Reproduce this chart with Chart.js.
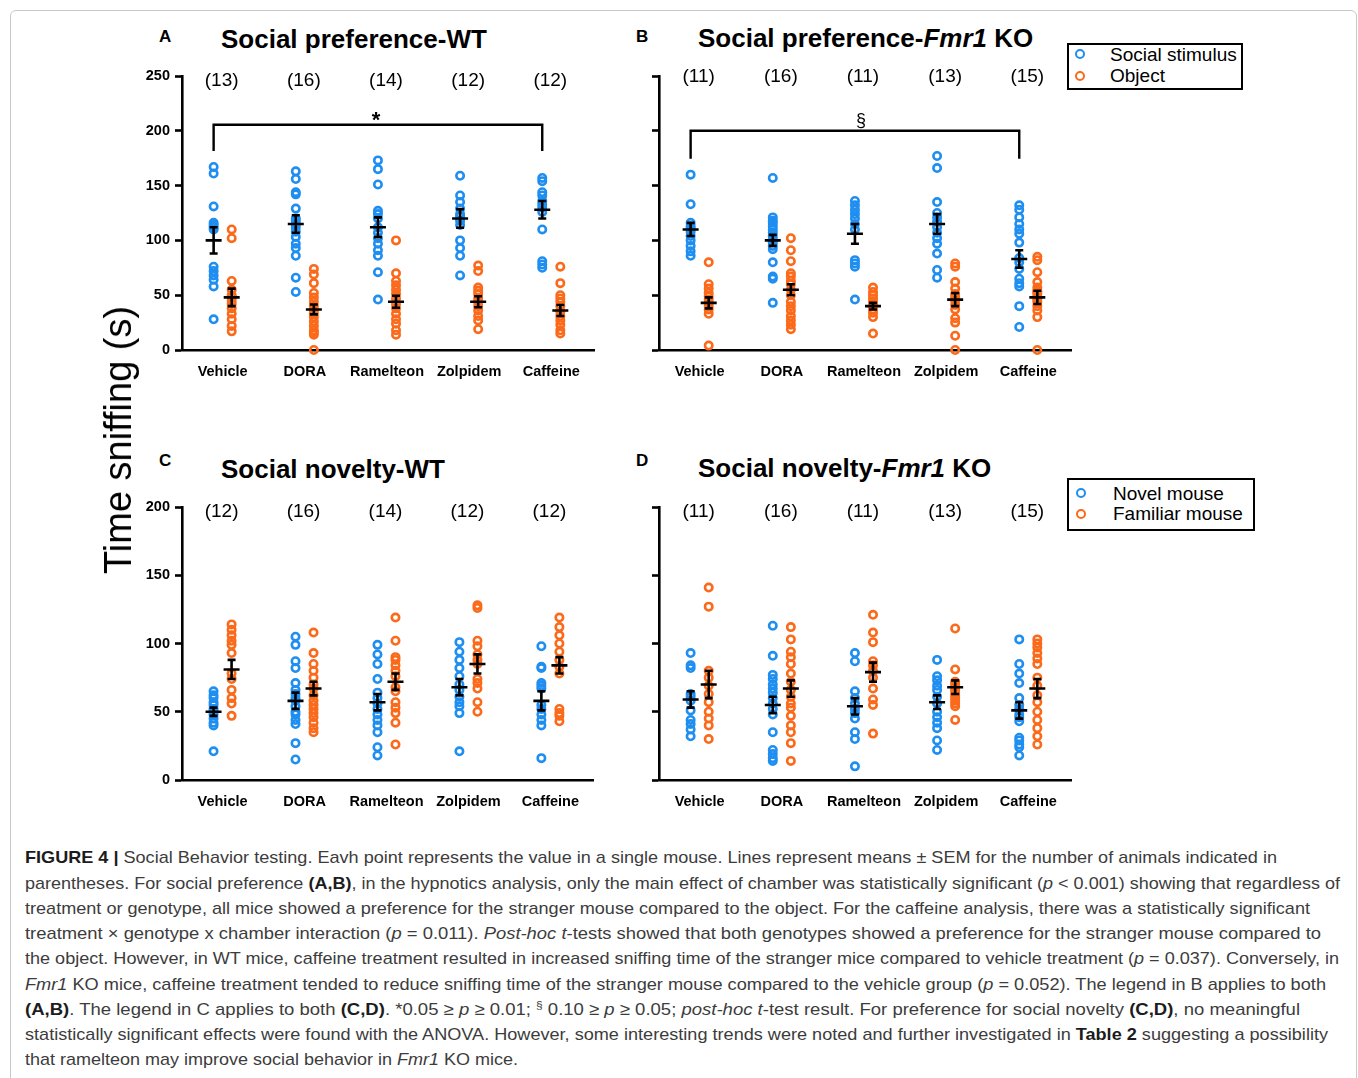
<!DOCTYPE html>
<html><head><meta charset="utf-8">
<script src="https://cdn.jsdelivr.net/npm/chart.js@4.4.0/dist/chart.umd.min.js"></script>
<style>
html,body{margin:0;padding:0;background:#fff}
body{width:1358px;height:1078px;position:relative;overflow:hidden;font-family:"Liberation Sans",Arial,sans-serif;color:#000}
.abs{position:absolute;white-space:nowrap}
canvas{position:absolute}
.frame{position:absolute;left:10px;top:10px;width:1345px;height:1100px;border:1px solid #c9c9c9;border-radius:6px}
.letter{font-weight:bold;font-size:17px;line-height:20px}
.title{font-weight:bold;font-size:26px;line-height:30px}
.leg{position:absolute;border:2.5px solid #000;box-sizing:border-box;background:#fff}
.dot{position:absolute;width:10px;height:10px;box-sizing:border-box;border-radius:50%;border:2.6px solid}
.legt{font-size:19px;line-height:22px}
.cap{font-size:17px;line-height:22px;height:22px;color:#3c3c3c;transform-origin:0 50%}
.cap b{color:#1c1c1c}
.cap sup{font-size:11px;line-height:0;vertical-align:6px}
</style></head>
<body>
<div class="frame"></div>

<canvas id="cA" width="510" height="340" style="left:100px;top:60px"></canvas>
<canvas id="cB" width="490" height="340" style="left:600px;top:60px"></canvas>
<canvas id="cC" width="510" height="340" style="left:100px;top:490px"></canvas>
<canvas id="cD" width="490" height="340" style="left:600px;top:490px"></canvas>

<div class="abs letter" style="left:159px;top:27px">A</div>
<div class="abs title" style="left:221px;top:24px">Social preference-WT</div>
<div class="abs letter" style="left:636px;top:27px">B</div>
<div class="abs title" style="left:698px;top:23px">Social preference-<i>Fmr1</i> KO</div>
<div class="abs letter" style="left:159px;top:451px">C</div>
<div class="abs title" style="left:221px;top:454px">Social novelty-WT</div>
<div class="abs letter" style="left:636px;top:451px">D</div>
<div class="abs title" style="left:698px;top:453px">Social novelty-<i>Fmr1</i> KO</div>

<div class="abs" style="left:118px;top:440px;transform:translate(-50%,-50%) rotate(-90deg);font-size:38px;line-height:44px">Time sniffing (s)</div>

<div class="leg" style="left:1067px;top:43px;width:176px;height:47px"></div>
<div class="dot" style="left:1075px;top:49px;border-color:#1f8ef1"></div>
<div class="dot" style="left:1075px;top:71px;border-color:#fb6a1a"></div>
<div class="abs legt" style="left:1110px;top:44px">Social stimulus</div>
<div class="abs legt" style="left:1110px;top:65px">Object</div>

<div class="leg" style="left:1067px;top:478px;width:188px;height:53px"></div>
<div class="dot" style="left:1076px;top:488px;border-color:#1f8ef1"></div>
<div class="dot" style="left:1076px;top:509px;border-color:#fb6a1a"></div>
<div class="abs legt" style="left:1113px;top:483px">Novel mouse</div>
<div class="abs legt" style="left:1113px;top:503px">Familiar mouse</div>

<div class="abs cap" data-w="1252" style="left:25px;top:847px"><b>FIGURE 4 |</b> Social Behavior testing. Eavh point represents the value in a single mouse. Lines represent means ± SEM for the number of animals indicated in</div>
<div class="abs cap" data-w="1315" style="left:25px;top:873px">parentheses. For social preference <b>(A,B)</b>, in the hypnotics analysis, only the main effect of chamber was statistically significant (<i>p</i> &lt; 0.001) showing that regardless of</div>
<div class="abs cap" data-w="1285" style="left:25px;top:898px">treatment or genotype, all mice showed a preference for the stranger mouse compared to the object. For the caffeine analysis, there was a statistically significant</div>
<div class="abs cap" data-w="1296" style="left:25px;top:923px">treatment × genotype x chamber interaction (<i>p</i> = 0.011). <i>Post-hoc t</i>-tests showed that both genotypes showed a preference for the stranger mouse compared to</div>
<div class="abs cap" data-w="1314" style="left:25px;top:948px">the object. However, in WT mice, caffeine treatment resulted in increased sniffing time of the stranger mice compared to vehicle treatment (<i>p</i> = 0.037). Conversely, in</div>
<div class="abs cap" data-w="1301" style="left:25px;top:974px"><i>Fmr1</i> KO mice, caffeine treatment tended to reduce sniffing time of the stranger mouse compared to the vehicle group (<i>p</i> = 0.052). The legend in B applies to both</div>
<div class="abs cap" data-w="1275" style="left:25px;top:999px"><b>(A,B)</b>. The legend in C applies to both <b>(C,D)</b>. *0.05 ≥ <i>p</i> ≥ 0.01; <sup>§</sup> 0.10 ≥ <i>p</i> ≥ 0.05; <i>post-hoc t</i>-test result. For preference for social novelty <b>(C,D)</b>, no meaningful</div>
<div class="abs cap" data-w="1303" style="left:25px;top:1024px">statistically significant effects were found with the ANOVA. However, some interesting trends were noted and further investigated in <b>Table 2</b> suggesting a possibility</div>
<div class="abs cap" data-w="493" style="left:25px;top:1049px">that ramelteon may improve social behavior in <i>Fmr1</i> KO mice.</div>

<script>
// ---------- DATA ----------
const categories = ['Vehicle', 'DORA', 'Ramelteon', 'Zolpidem', 'Caffeine'];
const prefTicks = [0, 50, 100, 150, 200, 250];
const novTicks = [0, 50, 100, 150, 200];
const nPrefWT = [13, 16, 14, 12, 12];
const nPrefKO = [11, 16, 11, 13, 15];
const nNovWT = [12, 16, 14, 12, 12];
const nNovKO = [11, 16, 11, 13, 15];

// A: Social preference - WT
const prefWT_social = [
  [167,161,131,116,114,112,110,76,72,68,64,58,28],
  [163,156,144,142,129,120,118,115,112,108,103,97,93,86,66,53],
  [173,165,151,127,124,120,112,107,102,97,91,86,71,46],
  [159,141,135,129,124,122,118,114,100,93,86,68],
  [157,154,144,141,136,133,130,126,110,81,78,75]
];
const prefWT_object = [
  [110,102,63,55,50,48,45,42,38,33,28,22,17],
  [74,69,61,52,48,44,40,36,33,30,26,22,18,16,14,0],
  [100,70,63,59,55,51,47,42,38,33,28,24,18,14],
  [77,72,57,54,51,47,44,40,36,31,27,19],
  [76,61,50,47,44,40,35,31,27,23,18,15]
];
const prefWT_socialMean = [100, 115, 112, 120, 128];
const prefWT_socialSem = [12, 8, 9, 8.5, 8];
const prefWT_objectMean = [48, 37, 44, 44, 36];
const prefWT_objectSem = [8, 4.5, 5.5, 5, 5];

// B: Social preference - Fmr1 KO
const prefKO_social = [
  [160,133,116,113,111,108,104,100,95,90,86],
  [157,121,118,116,113,110,107,104,101,98,95,92,80,67,65,43],
  [136,132,128,124,120,115,110,82,79,76,46],
  [177,166,135,125,121,117,112,107,102,97,88,73,66],
  [132,128,121,115,110,106,98,84,80,74,65,61,58,40,21]
];
const prefKO_object = [
  [80,60,56,52,49,46,43,40,37,33,4],
  [102,91,81,70,67,63,60,55,50,44,40,36,31,27,23,19],
  [57,53,50,47,44,42,40,37,34,30,15],
  [79,76,62,56,51,48,45,41,37,29,25,13,0],
  [85,82,71,62,57,54,53,51,48,46,44,40,36,30,0]
];
const prefKO_socialMean = [110, 100, 106, 115, 83];
const prefKO_socialSem = [6, 5, 9, 9, 8];
const prefKO_objectMean = [43, 55, 40, 46, 48];
const prefKO_objectSem = [5, 5, 3, 6, 6];

// C: Social novelty - WT
const novWT_novel = [
  [65,62,60,57,55,52,50,48,45,42,40,21],
  [105,99,87,82,71,66,63,60,58,54,50,48,44,41,27,15],
  [99,92,85,74,64,60,56,52,48,44,40,35,24,18],
  [101,94,88,82,76,70,66,61,57,54,49,21],
  [98,83,82,71,69,67,55,52,48,44,40,16]
];
const novWT_familiar = [
  [114,110,106,102,99,93,78,74,66,60,56,47],
  [108,93,85,80,75,70,67,62,58,55,52,49,46,42,38,35],
  [119,102,90,88,84,80,76,68,65,57,53,49,42,26],
  [128,126,102,98,92,88,85,74,71,67,57,50],
  [119,112,106,100,94,88,83,78,52,49,47,43]
];
const novWT_novelMean = [50, 58, 57, 68, 58];
const novWT_novelSem = [3, 6, 6, 6, 7];
const novWT_familiarMean = [81, 67, 72, 85, 84];
const novWT_familiarSem = [7, 5, 6, 7, 6];

// D: Social novelty - Fmr1 KO
const novKO_novel = [
  [93,84,82,63,61,58,51,44,41,37,32],
  [113,91,77,74,70,67,64,60,56,52,48,35,22,19,16,14],
  [93,87,65,60,56,52,49,45,35,30,10],
  [88,76,73,69,66,61,56,50,46,42,38,29,22],
  [103,85,78,71,60,55,52,48,46,43,31,29,26,24,18]
];
const novKO_familiar = [
  [141,127,80,75,69,63,57,50,45,40,30],
  [112,103,94,90,85,78,72,66,61,56,53,47,40,35,27,14],
  [121,108,101,87,84,80,75,67,59,55,34],
  [111,81,72,70,68,66,64,62,60,58,56,54,44],
  [103,100,97,93,89,85,75,69,62,57,50,44,38,32,26]
];
const novKO_novelMean = [59, 55, 54, 57, 51];
const novKO_novelSem = [6, 6, 6, 5, 6];
const novKO_familiarMean = [70, 67, 79, 68, 67];
const novKO_familiarSem = [10, 6, 7, 5, 7];

// ---------- STYLE ----------
const BLUE = '#1f8ef1';
const ORANGE = '#fb6a1a';
const OFF = 0.11;
const FONT = '"Liberation Sans", Arial, sans-serif';
Chart.defaults.font.family = FONT;

function pts(arr, off) {
  const out = [];
  arr.forEach((vals, i) => vals.forEach(v => out.push({x: i + off, y: v})));
  return out;
}

function annotPlugin(cfg) {
  return {
    id: 'annot_' + cfg.id,
    afterDatasetsDraw(chart) {
      const {ctx, scales: {x, y}} = chart;
      ctx.save();
      ctx.strokeStyle = '#000';
      ctx.lineWidth = 2.6;
      cfg.stats.forEach(s => {
        s.mean.forEach((m, i) => {
          const px = x.getPixelForValue(i + s.off);
          const pm = y.getPixelForValue(m);
          const pt = y.getPixelForValue(m + s.sem[i]);
          const pb = y.getPixelForValue(m - s.sem[i]);
          ctx.beginPath();
          ctx.moveTo(px - 8, pm); ctx.lineTo(px + 8, pm);
          ctx.moveTo(px, pt); ctx.lineTo(px, pb);
          ctx.moveTo(px - 4, pt); ctx.lineTo(px + 4, pt);
          ctx.moveTo(px - 4, pb); ctx.lineTo(px + 4, pb);
          ctx.stroke();
        });
      });
      ctx.restore();
    },
    afterDraw(chart) {
      const {ctx, scales: {x, y}, chartArea} = chart;
      ctx.save();
      ctx.fillStyle = '#000';
      ctx.font = '19px ' + FONT;
      ctx.textAlign = 'center';
      ctx.textBaseline = 'middle';
      cfg.n.forEach((n, i) => {
        ctx.fillText('(' + n + ')', x.getPixelForValue(i) - 1, chartArea.top + cfg.nDy);
      });
      if (cfg.bracket) {
        const b = cfg.bracket;
        const x1 = x.getPixelForValue(0 - OFF), x2 = x.getPixelForValue(4 - OFF);
        const yt = y.getPixelForValue(b.top), yb = y.getPixelForValue(b.bot);
        ctx.strokeStyle = '#000';
        ctx.lineWidth = 2.4;
        ctx.beginPath();
        ctx.moveTo(x1, yb); ctx.lineTo(x1, yt); ctx.lineTo(x2, yt); ctx.lineTo(x2, yb);
        ctx.stroke();
        ctx.font = b.font;
        ctx.textBaseline = 'alphabetic';
        ctx.fillText(b.sym, (x1 + x2) / 2 + b.dx, yt + b.dy);
      }
      ctx.restore();
    }
  };
}

function makePanel(cfg) {
  const datasets = [
    {data: pts(cfg.blue, -OFF), borderColor: BLUE},
    {data: pts(cfg.orange, OFF), borderColor: ORANGE}
  ].map(d => Object.assign(d, {
    pointStyle: 'circle', pointRadius: 3.7, pointBorderWidth: 2.6,
    pointBackgroundColor: 'rgba(0,0,0,0)', pointHoverRadius: 3.7, clip: false, showLine: false
  }));
  new Chart(document.getElementById(cfg.id), {
    type: 'scatter',
    data: {datasets},
    options: {
      responsive: false, animation: false, events: [], devicePixelRatio: 1,
      layout: {padding: {top: cfg.padTop, right: cfg.padRight, left: 0, bottom: 0}},
      plugins: {legend: {display: false}, tooltip: {enabled: false}},
      scales: {
        x: {
          type: 'linear', min: -0.495, max: 4.52,
          afterBuildTicks: s => { s.ticks = categories.map((c, i) => ({value: i})); },
          afterFit: s => { s.height = 50; },
          ticks: {callback: v => categories[v], color: '#000', font: {size: 14.5, weight: 'bold'},
                  padding: 13, autoSkip: false, maxRotation: 0, minRotation: 0},
          grid: {display: false, drawTicks: false},
          border: {display: true, color: '#000', width: 2.6}
        },
        y: {
          min: 0, max: cfg.ymax,
          afterBuildTicks: s => { s.ticks = cfg.ticks.map(v => ({value: v})); },
          afterFit: s => { s.width = cfg.yw; },
          ticks: {display: cfg.showY, color: '#000', font: {size: 14.5, weight: 'bold'}, padding: 5},
          grid: {drawOnChartArea: false, drawTicks: true, tickLength: 7, color: '#000', tickWidth: 2.6},
          border: {display: true, color: '#000', width: 2.6}
        }
      }
    },
    plugins: [annotPlugin(cfg)]
  });
}

const panels = [
  {id: 'cA', yw: 82, padTop: 16, padRight: 16, ymax: 250, ticks: prefTicks, showY: true, n: nPrefWT, nDy: 5,
   blue: prefWT_social, orange: prefWT_object,
   stats: [{mean: prefWT_socialMean, sem: prefWT_socialSem, off: -OFF}, {mean: prefWT_objectMean, sem: prefWT_objectSem, off: OFF}],
   bracket: {top: 205.5, bot: 181.5, sym: '*', font: 'bold 22px ' + FONT, dx: -2, dy: 2}},
  {id: 'cB', yw: 59, padTop: 16, padRight: 19, ymax: 250, ticks: prefTicks, showY: false, n: nPrefKO, nDy: 1,
   blue: prefKO_social, orange: prefKO_object,
   stats: [{mean: prefKO_socialMean, sem: prefKO_socialSem, off: -OFF}, {mean: prefKO_objectMean, sem: prefKO_objectSem, off: OFF}],
   bracket: {top: 200, bot: 174.5, sym: '§', font: '18px ' + FONT, dx: 6, dy: -5}},
  {id: 'cC', yw: 82, padTop: 17, padRight: 17, ymax: 200, ticks: novTicks, showY: true, n: nNovWT, nDy: 5,
   blue: novWT_novel, orange: novWT_familiar,
   stats: [{mean: novWT_novelMean, sem: novWT_novelSem, off: -OFF}, {mean: novWT_familiarMean, sem: novWT_familiarSem, off: OFF}]},
  {id: 'cD', yw: 59, padTop: 17, padRight: 19, ymax: 200, ticks: novTicks, showY: false, n: nNovKO, nDy: 5,
   blue: novKO_novel, orange: novKO_familiar,
   stats: [{mean: novKO_novelMean, sem: novKO_novelSem, off: -OFF}, {mean: novKO_familiarMean, sem: novKO_familiarSem, off: OFF}]}
];
panels.forEach(makePanel);

function fitCaption() {
  document.querySelectorAll('.cap').forEach(el => {
    el.style.transform = 'none';
    const w = el.getBoundingClientRect().width;
    const t = +el.dataset.w;
    if (w > 0) el.style.transform = 'scaleX(' + (t / w) + ')';
  });
}
fitCaption();
if (document.fonts && document.fonts.ready) document.fonts.ready.then(fitCaption);
</script>
</body></html>
